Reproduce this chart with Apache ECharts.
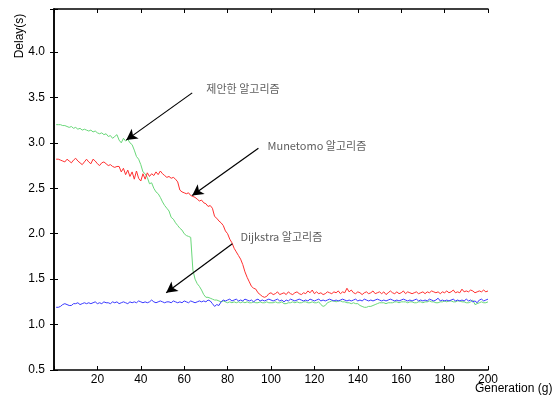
<!DOCTYPE html>
<html>
<head>
<meta charset="utf-8">
<script src="https://cdn.jsdelivr.net/npm/echarts@6/dist/echarts.min.js"></script>
<style>html,body{margin:0;padding:0;background:#fff}#c{width:556px;height:398px}</style>
</head>
<body>
<div id="c"></div>
<script>
// Delay (s) per generation, g = 1..200
var proposed = [
3.20,3.20,3.20,3.19,3.19, 3.18,3.17,3.18,3.16,3.17, 3.15,3.16,3.14,3.15,3.14, 3.13,3.14,3.12,3.13,3.11,
3.10,3.11,3.09,3.10,3.07, 3.08,3.05,3.07,3.09,3.03, 3.00,3.05,3.02,3.04,3.00, 2.98,2.92,2.85,2.82,2.76,
2.68,2.66,2.62,2.55,2.56, 2.50,2.46,2.44,2.40,2.35, 2.31,2.28,2.25,2.18,2.16, 2.12,2.09,2.06,2.04,2.00,
1.98,1.97,1.96,1.60,1.50, 1.45,1.42,1.38,1.33,1.30, 1.30,1.29,1.28,1.27,1.27, 1.26,1.25,1.26,1.25,1.24,
1.25,1.24,1.25,1.24,1.25, 1.24,1.25,1.24,1.25,1.24, 1.24,1.25,1.24,1.24,1.25, 1.24,1.24,1.25,1.24,1.24,
1.24,1.25,1.24,1.24,1.25, 1.23,1.23,1.24,1.24,1.25, 1.24,1.25,1.24,1.24,1.25, 1.25,1.24,1.24,1.25,1.24,
1.24,1.25,1.22,1.20,1.21, 1.24,1.25,1.26,1.26,1.25, 1.26,1.26,1.25,1.25,1.24, 1.24,1.23,1.24,1.23,1.23,
1.21,1.20,1.19,1.19,1.20, 1.20,1.21,1.22,1.23,1.24, 1.24,1.24,1.23,1.24,1.24, 1.24,1.25,1.25,1.24,1.25,
1.25,1.25,1.24,1.25,1.25, 1.24,1.24,1.25,1.25,1.24, 1.25,1.25,1.26,1.25,1.25, 1.24,1.24,1.25,1.25,1.26,
1.25,1.26,1.26,1.25,1.25, 1.26,1.26,1.25,1.25,1.24, 1.24,1.25,1.27,1.22,1.23, 1.24,1.25,1.24,1.24,1.25
];
var munetomo = [
2.82,2.82,2.81,2.80,2.79, 2.82,2.80,2.78,2.81,2.83, 2.80,2.78,2.76,2.79,2.82, 2.79,2.77,2.82,2.80,2.77,
2.75,2.78,2.79,2.77,2.75, 2.76,2.74,2.73,2.74,2.74, 2.68,2.72,2.65,2.70,2.63, 2.68,2.60,2.69,2.61,2.58,
2.66,2.60,2.67,2.63,2.66, 2.64,2.68,2.65,2.69,2.66, 2.64,2.62,2.63,2.61,2.62, 2.60,2.57,2.48,2.46,2.45,
2.44,2.45,2.42,2.41,2.40, 2.38,2.36,2.37,2.34,2.33, 2.30,2.31,2.28,2.19,2.17, 2.14,2.12,2.09,2.03,2.00,
1.94,1.90,1.84,1.80,1.76, 1.72,1.66,1.58,1.52,1.47, 1.42,1.40,1.39,1.35,1.33, 1.31,1.30,1.31,1.34,1.35,
1.33,1.34,1.36,1.33,1.34, 1.35,1.33,1.36,1.34,1.33, 1.35,1.36,1.34,1.33,1.35, 1.34,1.37,1.35,1.38,1.34,
1.36,1.34,1.35,1.33,1.34, 1.36,1.35,1.34,1.36,1.35, 1.37,1.34,1.36,1.35,1.40, 1.36,1.38,1.35,1.34,1.36,
1.35,1.33,1.35,1.36,1.34, 1.35,1.37,1.34,1.35,1.36, 1.34,1.36,1.33,1.35,1.37, 1.35,1.34,1.36,1.34,1.35,
1.37,1.34,1.36,1.35,1.34, 1.35,1.36,1.34,1.35,1.36, 1.34,1.36,1.35,1.37,1.36, 1.35,1.36,1.34,1.36,1.35,
1.37,1.35,1.36,1.38,1.35, 1.36,1.35,1.39,1.36,1.37, 1.36,1.38,1.37,1.35,1.36, 1.37,1.36,1.38,1.36,1.37
];
var dijkstra = [
1.19,1.19,1.20,1.22,1.23, 1.22,1.21,1.21,1.23,1.23, 1.24,1.22,1.23,1.24,1.23, 1.24,1.23,1.24,1.25,1.23,
1.24,1.23,1.25,1.24,1.24, 1.23,1.25,1.24,1.25,1.23, 1.24,1.25,1.24,1.23,1.25, 1.24,1.25,1.24,1.26,1.25,
1.24,1.25,1.24,1.25,1.27, 1.25,1.24,1.25,1.26,1.25, 1.24,1.25,1.25,1.24,1.26, 1.25,1.24,1.25,1.24,1.26,
1.25,1.24,1.26,1.25,1.24, 1.25,1.26,1.25,1.26,1.25, 1.27,1.26,1.23,1.20,1.22, 1.21,1.25,1.27,1.26,1.27,
1.28,1.26,1.27,1.28,1.26, 1.27,1.26,1.28,1.27,1.26, 1.27,1.25,1.27,1.28,1.26, 1.27,1.26,1.27,1.28,1.27,
1.26,1.27,1.28,1.26,1.27, 1.25,1.27,1.26,1.28,1.27, 1.26,1.27,1.28,1.27,1.26, 1.27,1.26,1.28,1.27,1.26,
1.27,1.28,1.26,1.27,1.26, 1.27,1.28,1.27,1.26,1.27, 1.26,1.27,1.28,1.27,1.26, 1.27,1.26,1.27,1.28,1.26,
1.27,1.26,1.28,1.27,1.26, 1.27,1.26,1.27,1.28,1.27, 1.26,1.27,1.26,1.27,1.28, 1.27,1.26,1.27,1.26,1.27,
1.28,1.27,1.26,1.27,1.26, 1.27,1.28,1.26,1.27,1.26, 1.27,1.26,1.28,1.27,1.26, 1.27,1.29,1.26,1.27,1.26,
1.27,1.26,1.27,1.28,1.26, 1.27,1.26,1.27,1.26,1.28, 1.26,1.27,1.25,1.26,1.24, 1.27,1.28,1.26,1.27,1.28
];
var yTicks = [0.5, 1.0, 1.5, 2.0, 2.5, 3.0, 3.5, 4.0];
var xTicks = [20, 40, 60, 80, 100, 120, 140, 160, 180, 200];
var xTitle = 'Generation (g)';
var yTitle = 'Delay(s)';
// annotations: label, label anchor [g, delay], arrow start, arrow end
var annLabels = ['제안한 알고리즘', 'Munetomo 알고리즘', 'Dijkstra 알고리즘'];
var annText  = [[70.2, 3.60], [98.4, 2.965], [85.9, 1.964]];
var annFrom  = [[63.7, 3.55], [94.2, 2.94], [82.2, 1.89]];
var annTo    = [[33.3, 3.03], [63.7, 2.42], [51.7, 1.35]];

function pairs(arr){ return arr.map(function(v,i){ return [i+1, v]; }); }

var FONT = '"Liberation Sans", Arial, sans-serif';
var chart = echarts.init(document.getElementById('c'), null, {renderer:'canvas'});
var axisLine = {show:true, lineStyle:{color:'#000', width:1.5}};
var tickIn = {show:true, inside:true, length:4, lineStyle:{color:'#000', width:1}};
chart.setOption({
  animation:false,
  backgroundColor:'#fff',
  grid:{left:54, right:68, top:9, bottom:28, containLabel:false, outerBoundsMode:'none'},
  xAxis:[{
    type:'value', min:0, max:200, interval:20, position:'bottom',
    axisLine:axisLine, axisTick:tickIn, splitLine:{show:false},
    axisLabel:{color:'#000', fontSize:12, fontFamily:FONT, margin:4,
      formatter:function(v){ return xTicks.indexOf(v) >= 0 ? String(v) : ''; }}
  },{
    type:'value', min:0, max:200, interval:20, position:'top',
    axisLine:axisLine, axisTick:tickIn, axisLabel:{show:false}, splitLine:{show:false}
  }],
  yAxis:[{
    type:'value', min:0.5, max:4.473, interval:0.5, position:'left',
    axisLine:axisLine, axisTick:tickIn, splitLine:{show:false},
    axisLabel:{color:'#000', fontSize:12, fontFamily:FONT, margin:9,
      formatter:function(v){ return yTicks.indexOf(Math.round(v*10)/10) >= 0 && v <= 4.0 ? v.toFixed(1) : ''; }}
  },{
    type:'value', min:0.5, max:4.473, interval:0.5, position:'right',
    axisLine:axisLine, axisTick:tickIn, axisLabel:{show:false}, splitLine:{show:false}
  }],
  graphic:[{
    type:'text', x:20, y:36, rotation:Math.PI/2,
    style:{text:yTitle, fill:'#000', font:'12px ' + FONT, textAlign:'center', textVerticalAlign:'middle'}
  },{
    type:'text', x:475, y:389,
    style:{text:xTitle, fill:'#000', font:'12px ' + FONT, textAlign:'left', textVerticalAlign:'middle'}
  }],
  series:[
    {name:'Dijkstra', type:'line', data:pairs(dijkstra), showSymbol:false, symbol:'none',
     lineStyle:{color:'#3a3aff', width:1}, z:3},
    {name:'Proposed', type:'line', data:pairs(proposed), showSymbol:false, symbol:'none',
     lineStyle:{color:'#6ad87a', width:1}, z:2},
    {name:'Munetomo', type:'line', data:pairs(munetomo), showSymbol:false, symbol:'none',
     lineStyle:{color:'#ff3030', width:1}, z:2,
     markLine:{
       silent:true, animation:false, symbol:['none','arrow'], symbolSize:[9,11],
       lineStyle:{color:'#000', width:1.2, type:'solid'}, label:{show:false},
       data: annFrom.map(function(f,i){ return [{coord:f}, {coord:annTo[i]}]; })
     }},
    {name:'labels', type:'scatter', symbolSize:0, silent:true, z:5,
     data: annText.map(function(p,i){ return {value:p, name:annLabels[i]}; }),
     label:{show:true, position:'right', distance:0, color:'#333', fontSize:11,
       fontFamily:'"Noto Sans CJK KR", ' + FONT,
       formatter:function(p){ return p.name; }}}
  ]
});
</script>
</body>
</html>
